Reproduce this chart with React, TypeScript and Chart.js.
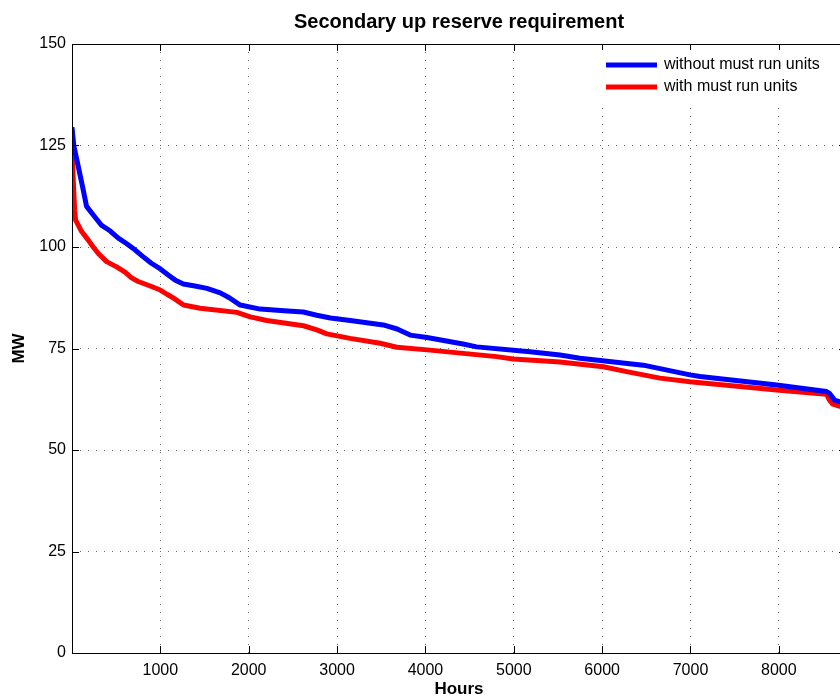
import React, { useEffect, useRef } from "react";
import { Chart, registerables } from "chart.js";

Chart.register(...registerables);

const titleText = "Secondary up reserve requirement";
const xLabel = "Hours";
const yLabel = "MW";
const seriesNames = ["without must run units", "with must run units"];
const seriesColors = ["#0000ff", "#ff0000"];

const xTickValues = [0, 1000, 2000, 3000, 4000, 5000, 6000, 7000, 8000];
const yTickValues = [0, 25, 50, 75, 100, 125, 150];

const hoursWithout = [
  0, 20, 71, 128, 165, 241, 331, 430, 524, 620, 712, 800, 898, 1000, 1089, 1165,
  1260, 1391, 1527, 1678, 1780, 1904, 2130, 2400, 2617, 2770, 2925, 3150, 3523,
  3680, 3827, 4018, 4426, 4580, 5184, 5524, 5750, 6465, 6995, 7108, 7975, 8540,
  8570, 8600, 8630, 8760,
];
const mwWithout = [
  129.5, 125, 119.8, 114, 110, 107.9, 105.4, 104, 102.2, 100.8, 99.3, 97.7, 96,
  94.6, 93.1, 91.9, 90.9, 90.4, 89.8, 88.7, 87.5, 85.7, 84.7, 84.3, 84, 83.2,
  82.5, 81.9, 80.8, 79.8, 78.3, 77.7, 76.1, 75.4, 74.2, 73.4, 72.6, 70.9, 68.5,
  68.1, 66, 64.4, 64.0, 63.2, 62.3, 61.4,
];

const hoursWith = [
  0, 15, 30, 41, 109, 184, 240, 298, 392, 505, 600, 674, 750, 886, 999, 1080,
  1150, 1262, 1451, 1867, 2017, 2205, 2620, 2771, 2884, 3148, 3488, 3676, 4053,
  4427, 4806, 4994, 5524, 6014, 6278, 6655, 6995, 7975, 8540, 8575, 8610, 8760,
];
const mwWith = [
  126, 116, 109, 106.6, 103.8, 101.7, 100, 98.4, 96.4, 95.1, 93.8, 92.4, 91.5,
  90.4, 89.4, 88.3, 87.4, 85.7, 84.9, 83.9, 82.8, 81.9, 80.6, 79.6, 78.6, 77.5,
  76.3, 75.3, 74.6, 73.8, 73, 72.4, 71.7, 70.5, 69.3, 67.7, 66.8, 64.8, 63.7,
  62.2, 61.3, 60.3,
];

const FONT = "'Liberation Sans', Arial, Helvetica, sans-serif";

const decorPlugin = {
  id: "decor",
  afterDraw(chart: any) {
    const ctx = chart.ctx as CanvasRenderingContext2D;
    const area = chart.chartArea;
    const xs = chart.scales.x;
    const ys = chart.scales.y;
    ctx.save();
    // spine box
    ctx.strokeStyle = "#000";
    ctx.lineWidth = 1;
    ctx.setLineDash([]);
    ctx.strokeRect(
      Math.round(area.left) + 0.5,
      Math.round(area.top) + 0.5,
      Math.round(area.right - area.left),
      Math.round(area.bottom - area.top)
    );
    // inward ticks
    const tl = 7;
    ctx.beginPath();
    xTickValues.forEach((v) => {
      if (v === 0) return;
      const px = Math.round(xs.getPixelForValue(v)) + 0.5;
      ctx.moveTo(px, area.bottom);
      ctx.lineTo(px, area.bottom - tl);
      ctx.moveTo(px, area.top);
      ctx.lineTo(px, area.top + tl);
    });
    yTickValues.forEach((v) => {
      if (v === 0 || v === 150) return;
      const py = Math.round(ys.getPixelForValue(v)) + 0.5;
      ctx.moveTo(area.left, py);
      ctx.lineTo(area.left + tl, py);
      ctx.moveTo(area.right, py);
      ctx.lineTo(area.right - tl, py);
    });
    ctx.stroke();

    // legend
    ctx.fillStyle = "#fff";
    ctx.fillRect(596, 50, 300, 51);
    const rows = [65, 87];
    rows.forEach((y, i) => {
      ctx.strokeStyle = seriesColors[i];
      ctx.lineWidth = 5;
      ctx.beginPath();
      ctx.moveTo(606, y);
      ctx.lineTo(657, y);
      ctx.stroke();
      ctx.fillStyle = "#000";
      ctx.font = `16px ${FONT}`;
      ctx.textAlign = "left";
      ctx.textBaseline = "middle";
      ctx.fillText(seriesNames[i], 664, y);
    });

    // title and axis labels
    const cx = (area.left + area.right) / 2;
    const cy = (area.top + area.bottom) / 2;
    ctx.fillStyle = "#000";
    ctx.textAlign = "center";
    ctx.textBaseline = "middle";
    ctx.font = `bold 20px ${FONT}`;
    ctx.fillText(titleText, cx, 22);
    ctx.font = `bold 17px ${FONT}`;
    ctx.fillText(xLabel, cx, 689);
    ctx.save();
    ctx.translate(19, cy);
    ctx.rotate(-Math.PI / 2);
    ctx.fillText(yLabel, 0, 0);
    ctx.restore();
    ctx.restore();
  },
};

export default function App() {
  const ref = useRef<HTMLCanvasElement>(null);
  useEffect(() => {
    if (!ref.current) return;
    const chart = new Chart(ref.current, {
      type: "line",
      data: {
        datasets: [
          {
            label: seriesNames[0],
            data: hoursWithout.map((h, i) => ({ x: h, y: mwWithout[i] })),
            borderColor: seriesColors[0],
            borderWidth: 5,
            pointRadius: 0,
            tension: 0,
            fill: false,
            borderJoinStyle: "round",
          },
          {
            label: seriesNames[1],
            data: hoursWith.map((h, i) => ({ x: h, y: mwWith[i] })),
            borderColor: seriesColors[1],
            borderWidth: 5,
            pointRadius: 0,
            tension: 0,
            fill: false,
            borderJoinStyle: "round",
          },
        ],
      },
      options: {
        animation: false,
        responsive: false,
        devicePixelRatio: 1,
        layout: { padding: { top: 44, left: 0, right: 54, bottom: 0 } },
        plugins: {
          legend: { display: false },
          title: { display: false },
          tooltip: { enabled: false },
        },
        scales: {
          x: {
            type: "linear",
            min: 0,
            max: 8760,
            afterBuildTicks: (s: any) => {
              s.ticks = xTickValues.map((v) => ({ value: v }));
            },
            afterFit: (s: any) => {
              s.height = 47;
            },
            ticks: {
              autoSkip: false,
              maxRotation: 0,
              padding: 8,
              color: "#000",
              font: { family: FONT, size: 16 },
              callback: (v: any) => (v === 0 ? "" : String(v)),
            },
            grid: {
              color: "rgba(0,0,0,0.6)",
              lineWidth: 1,
              drawTicks: false,
            },
            border: { display: false, dash: [1, 7] },
          },
          y: {
            type: "linear",
            min: 0,
            max: 150,
            afterBuildTicks: (s: any) => {
              s.ticks = yTickValues.map((v) => ({ value: v }));
            },
            afterFit: (s: any) => {
              s.width = 72;
            },
            ticks: {
              padding: 6,
              color: "#000",
              font: { family: FONT, size: 16 },
            },
            grid: {
              color: "rgba(0,0,0,0.6)",
              lineWidth: 1,
              drawTicks: false,
            },
            border: { display: false, dash: [1, 7] },
          },
        },
      },
      plugins: [decorPlugin],
    } as any);
    return () => chart.destroy();
  }, []);
  return (
    <div
      style={{
        position: "fixed",
        left: 0,
        top: 0,
        width: 840,
        height: 700,
        overflow: "hidden",
        background: "#fff",
      }}
    >
      <canvas ref={ref} width={900} height={700} style={{ display: "block" }} />
    </div>
  );
}
